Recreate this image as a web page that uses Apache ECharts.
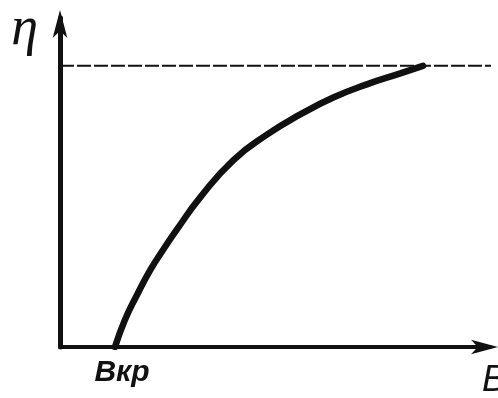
<!DOCTYPE html>
<html>
<head>
<meta charset="utf-8">
<script src="https://cdn.jsdelivr.net/npm/echarts@6/dist/echarts.min.js"></script>
<style>
  html, body { margin: 0; padding: 0; background: #fff; }
  #chart { width: 498px; height: 398px; }
</style>
</head>
<body>
<div id="chart"></div>
<script>
// Efficiency η versus B: zero below the critical value B_kp, rising to saturation
const bCritical = 1.0;
const etaMax = 1.0;
const curveB   = [1.0, 1.18, 1.40, 1.64, 1.87, 2.13, 2.55, 3.15, 3.77, 4.37, 4.97, 5.58, 6.19, 6.6];
const curveEta = [0.0, 0.096, 0.185, 0.273, 0.344, 0.419, 0.532, 0.664, 0.756, 0.827, 0.887, 0.934, 0.973, 1.0];
const bMax = 7.82;
const etaAxisMax = 1.17;
const saturationB = [0, 7.97];
const xTickLabels = { 1: 'Bкр' };

const ink = '#111';
const chart = echarts.init(document.getElementById('chart'));

chart.setOption({
  backgroundColor: '#fff',
  animation: false,
  grid: { left: 60, right: 8, top: 18, bottom: 51, outerBoundsMode: 'none' },
  xAxis: {
    type: 'value',
    min: 0,
    max: bMax,
    interval: 1,
    name: 'B',
    nameLocation: 'end',
    nameGap: -8,
    nameTextStyle: {
      fontFamily: 'Liberation Sans',
      fontStyle: 'italic',
      fontSize: 36,
      color: ink,
      align: 'left',
      verticalAlign: 'top',
      padding: [16, 0, 0, 0]
    },
    axisLine: {
      show: true,
      symbol: ['none', 'arrow'],
      symbolSize: [11, 27],
      symbolOffset: [0, 8],
      lineStyle: { color: ink, width: 4 }
    },
    axisTick: { show: false },
    splitLine: { show: false },
    axisLabel: {
      show: true,
      margin: 11,
      padding: [0, 0, 0, 14],
      fontFamily: 'Liberation Sans',
      fontStyle: 'italic',
      fontWeight: 'bold',
      fontSize: 30,
      color: ink,
      formatter: v => xTickLabels[v] || ''
    }
  },
  yAxis: {
    type: 'value',
    min: 0,
    max: etaAxisMax,
    name: 'η',
    nameLocation: 'end',
    nameGap: -12,
    nameTextStyle: {
      fontFamily: 'Liberation Serif',
      fontStyle: 'italic',
      fontSize: 54,
      color: ink,
      align: 'right',
      verticalAlign: 'middle',
      padding: [0, 22, 0, 0]
    },
    axisLine: {
      show: true,
      symbol: ['none', 'arrow'],
      symbolSize: [11, 28],
      symbolOffset: [0, 8],
      lineStyle: { color: ink, width: 5 }
    },
    axisTick: { show: false },
    splitLine: { show: false },
    axisLabel: { show: false }
  },
  series: [
    {
      // saturation level η = ηmax, running out to the right edge
      type: 'line',
      data: saturationB.map(b => [b, etaMax]),
      showSymbol: false,
      clip: false,
      lineStyle: { color: ink, width: 2, type: [14, 3] },
      z: 1
    },
    {
      type: 'line',
      data: curveB.map((b, i) => [b, curveEta[i]]),
      smooth: 0.5,
      showSymbol: false,
      lineStyle: { color: ink, width: 6.5, cap: 'round' },
      z: 3
    }
  ]
});
</script>
</body>
</html>
